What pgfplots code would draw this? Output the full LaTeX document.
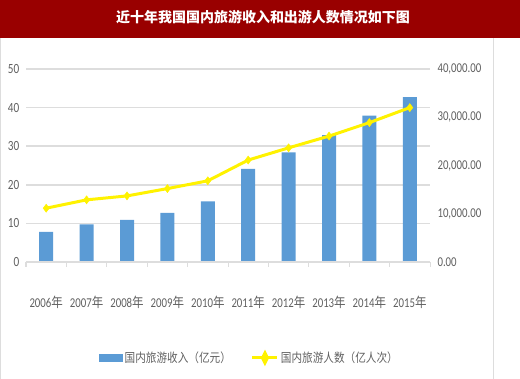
\documentclass[border=0pt]{standalone}
\usepackage{fontspec}
\setmainfont[FakeStretch=0.8]{Carlito}
\newfontfamily\cjk[FakeStretch=0.85]{Noto Sans CJK SC}
\newfontfamily\cjktitle{Noto Sans CJK SC}
\usepackage{pgfplots}
\pgfplotsset{compat=1.18}
\definecolor{barblue}{HTML}{5B9BD5}
\definecolor{titlered}{HTML}{990000}
\definecolor{gridgray}{HTML}{DDDDDD}
\definecolor{txtgray}{HTML}{606060}
\begin{document}
\begin{tikzpicture}[x=1pt,y=1pt]
\path[use as bounding box] (0pt,0pt) rectangle (520pt,379pt);
\fill[titlered] (0pt,341pt) rectangle (520pt,379pt);
\node[text=white,font=\cjktitle\fontsize{14}{16}\selectfont\bfseries] at (263pt,362pt) {近十年我国国内旅游收入和出游人数情况如下图};
\draw[gridgray, line width=1pt] (493pt,0pt) -- (493pt,341pt);
\draw[gridgray, line width=0.8pt] (0.5pt,0pt) -- (0.5pt,341pt);
% right axis: income bars
\begin{axis}[at={(26pt,117pt)}, anchor=south west, scale only axis,
  width=404pt, height=193pt,
  xmin=-0.5, xmax=9.5, ymin=0, ymax=40000,
  axis y line*=right, axis x line*=bottom,
  axis line style={draw=none},
  xtick=\empty,
  scaled y ticks=false,
  ytick={0,10000,20000,30000,40000},
  yticklabels={0.00,{10,000.00},{20,000.00},{30,000.00},{40,000.00}},
  yticklabel style={text=txtgray, font=\fontsize{13.5}{15}\selectfont, xshift=4pt},
  major tick length=0pt,
  extra y ticks={0,8000,16000,24000,32000,40000},
  extra y tick labels={},
  extra y tick style={grid=major},
  major grid style={gridgray, line width=1.5pt},
  clip=false]
\addplot[ybar, bar width=14pt, fill=barblue, draw=none] coordinates {
(0,6230) (1,7771) (2,8749) (3,10184) (4,12580) (5,19305) (6,22706) (7,26276) (8,30312) (9,34195)};
\end{axis}
% left axis: trips line
\begin{axis}[at={(26pt,117pt)}, anchor=south west, scale only axis,
  width=404pt, height=193pt,
  xmin=-0.5, xmax=9.5, ymin=0, ymax=50,
  axis y line*=left, axis x line*=bottom,
  y axis line style={draw=none},
  x axis line style={gridgray, line width=1.5pt, -},
  ytick={0,10,20,30,40,50},
  /pgf/number format/assume math mode=true,
  yticklabel style={text=txtgray, font=\fontsize{14}{15}\selectfont, xshift=1pt},
  ytick style={draw=none},
  xtick={0,...,9},
  xticklabels={2006{\cjk 年},2007{\cjk 年},2008{\cjk 年},2009{\cjk 年},2010{\cjk 年},2011{\cjk 年},2012{\cjk 年},2013{\cjk 年},2014{\cjk 年},2015{\cjk 年}},
  xticklabel style={text=txtgray, font=\fontsize{13.5}{15}\selectfont, yshift=-26pt},
  major x tick style={draw=none},
  minor xtick={-0.5,0.5,...,9.5},
  minor tick length=5pt, tick align=outside,
  minor x tick style={gridgray, line width=1pt},
  legend style={at={(axis description cs:0.181,-0.497)}, anchor=west, draw=none, fill=none,
    inner sep=0pt, font=\cjk\fontsize{12.5}{14}\selectfont, text=txtgray,
    /tikz/every even column/.append style={column sep=18pt}},
  legend columns=2,
  clip=false]
\addlegendimage{legend image code/.code={\fill[barblue] (0pt,-3.5pt) rectangle (23pt,3.5pt);}}
\addlegendentry{国内旅游收入（亿元）}
\addplot[yellow, line width=3pt, mark=diamond*, mark size=4pt, mark options={fill=yellow, line width=0.5pt},
  legend image code/.code={\draw[yellow, line width=3pt] (0pt,0pt) -- (25pt,0pt);
   \fill[yellow] (12.5pt,5pt) -- (15pt,0pt) -- (12.5pt,-5pt) -- (10pt,0pt) -- cycle;}] coordinates {
(0,13.94) (1,16.1) (2,17.12) (3,19.02) (4,21.03) (5,26.41) (6,29.57) (7,32.62) (8,36.11) (9,40.0)};
\addlegendentry{国内旅游人数（亿人次）}
\end{axis}
\end{tikzpicture}
\end{document}
